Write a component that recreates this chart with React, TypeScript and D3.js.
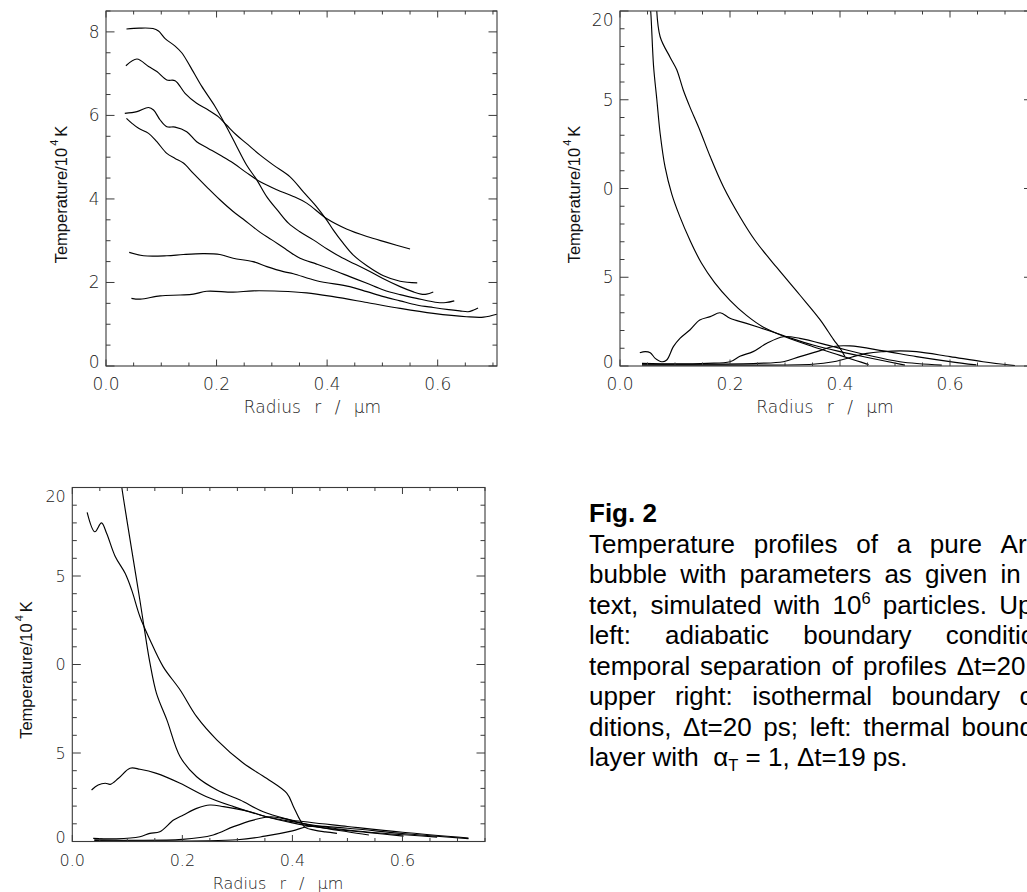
import React from "react";
import * as d3 from "d3";

type Pt = [number, number];

// ---------- Panel 1 (adiabatic) : [radius µm, T / 1e4 K]
const adiabaticA: Pt[] = [[0.037,8.07],[0.06,8.09],[0.085,8.08],[0.095,8.02],[0.107,7.84],[0.125,7.66],[0.137,7.5],[0.152,7.18],[0.173,6.7],[0.197,6.22],[0.215,5.8],[0.236,5.27],[0.254,4.82],[0.273,4.45],[0.291,4.05],[0.312,3.7],[0.33,3.42],[0.35,3.22],[0.375,3.02],[0.4,2.8],[0.423,2.62],[0.45,2.44],[0.472,2.3],[0.5,2.1],[0.532,1.9],[0.555,1.78],[0.57,1.72],[0.58,1.72],[0.592,1.77]];
const adiabaticB: Pt[] = [[0.036,7.19],[0.056,7.35],[0.077,7.17],[0.092,7.05],[0.11,6.85],[0.125,6.83],[0.143,6.53],[0.164,6.29],[0.185,6.13],[0.203,5.97],[0.218,5.77],[0.236,5.53],[0.254,5.33],[0.279,5.05],[0.303,4.81],[0.333,4.53],[0.357,4.17],[0.38,3.83],[0.399,3.5],[0.411,3.26],[0.429,2.94],[0.447,2.66],[0.472,2.4],[0.502,2.16],[0.532,2.03],[0.563,1.99]];
const adiabaticC: Pt[] = [[0.034,6.05],[0.056,6.09],[0.077,6.19],[0.086,6.13],[0.098,5.89],[0.11,5.73],[0.125,5.72],[0.146,5.61],[0.164,5.37],[0.185,5.21],[0.206,5.05],[0.23,4.86],[0.254,4.63],[0.279,4.41],[0.309,4.22],[0.339,4.06],[0.363,3.9],[0.399,3.53],[0.435,3.28],[0.472,3.1],[0.508,2.96],[0.55,2.8]];
const adiabaticD: Pt[] = [[0.037,5.93],[0.047,5.81],[0.059,5.69],[0.077,5.57],[0.092,5.37],[0.11,5.09],[0.125,4.97],[0.14,4.86],[0.158,4.61],[0.182,4.29],[0.206,3.98],[0.23,3.7],[0.248,3.52],[0.279,3.2],[0.3,3.02],[0.327,2.78],[0.351,2.58],[0.381,2.44],[0.41,2.3],[0.441,2.14],[0.472,1.98],[0.502,1.82],[0.532,1.71],[0.562,1.62],[0.6,1.52],[0.615,1.52],[0.63,1.56]];
const adiabaticE: Pt[] = [[0.042,2.72],[0.068,2.64],[0.11,2.64],[0.14,2.67],[0.176,2.69],[0.206,2.67],[0.23,2.58],[0.266,2.5],[0.291,2.38],[0.321,2.26],[0.339,2.21],[0.381,2.04],[0.441,1.9],[0.472,1.78],[0.502,1.66],[0.532,1.56],[0.562,1.46],[0.592,1.4],[0.62,1.35],[0.64,1.32],[0.655,1.3],[0.665,1.34],[0.673,1.39]];
const adiabaticF: Pt[] = [[0.046,1.62],[0.062,1.6],[0.098,1.68],[0.134,1.7],[0.158,1.72],[0.182,1.79],[0.23,1.77],[0.266,1.8],[0.315,1.79],[0.363,1.75],[0.411,1.66],[0.472,1.52],[0.532,1.38],[0.592,1.26],[0.652,1.18],[0.683,1.17],[0.707,1.24]];

// ---------- Panel 2 (isothermal)
const isoG: Pt[] = [[0.054,20.5],[0.056,19.9],[0.061,16.9],[0.067,15.0],[0.073,13.1],[0.082,11.2],[0.094,9.7],[0.109,8.4],[0.127,7.1],[0.148,5.8],[0.172,4.7],[0.2,3.7],[0.23,2.85],[0.26,2.2],[0.3,1.65],[0.35,1.1],[0.4,0.6],[0.43,0.3],[0.452,0.08]];
const isoH: Pt[] = [[0.066,20.5],[0.073,18.55],[0.091,17.4],[0.103,16.7],[0.115,15.55],[0.127,14.6],[0.145,13.3],[0.164,11.8],[0.188,10.1],[0.218,8.41],[0.245,7.1],[0.285,5.55],[0.327,4.0],[0.364,2.6],[0.388,1.5],[0.4,1.0],[0.409,0.53]];
const isoI: Pt[] = [[0.036,0.75],[0.046,0.81],[0.055,0.75],[0.064,0.43],[0.076,0.24],[0.085,0.34],[0.097,1.09],[0.109,1.56],[0.127,2.03],[0.145,2.59],[0.164,2.78],[0.182,3.0],[0.2,2.69],[0.23,2.4],[0.267,2.03],[0.303,1.65],[0.351,1.18],[0.4,0.81],[0.45,0.48],[0.518,0.05]];
const isoJ: Pt[] = [[0.04,0.15],[0.1,0.12],[0.158,0.15],[0.2,0.24],[0.218,0.55],[0.242,0.81],[0.267,1.28],[0.297,1.65],[0.327,1.56],[0.388,1.09],[0.449,0.62],[0.509,0.24],[0.585,0.05]];
const isoK: Pt[] = [[0.04,0.1],[0.15,0.1],[0.25,0.15],[0.297,0.24],[0.327,0.53],[0.358,0.81],[0.388,1.1],[0.418,1.13],[0.479,0.85],[0.539,0.53],[0.6,0.25],[0.648,0.06]];
const isoL: Pt[] = [[0.04,0.05],[0.2,0.05],[0.35,0.1],[0.388,0.24],[0.449,0.71],[0.479,0.81],[0.509,0.85],[0.539,0.81],[0.6,0.53],[0.66,0.24],[0.718,0.02]];

// ---------- Panel 3 (thermal boundary layer)
const layerP: Pt[] = [[0.088,20.5],[0.09,20],[0.099,18.2],[0.111,15.9],[0.123,13.6],[0.132,11.8],[0.141,10.1],[0.153,8.37],[0.172,6.86],[0.196,4.79],[0.226,3.66],[0.263,2.91],[0.305,2.34],[0.347,1.68],[0.396,1.21],[0.444,0.84],[0.5,0.55],[0.539,0.37]];
const layerQ: Pt[] = [[0.027,18.6],[0.041,17.5],[0.053,18.0],[0.0625,17.4],[0.078,16.1],[0.096,15.15],[0.108,14.2],[0.123,12.7],[0.141,11.4],[0.165,9.88],[0.196,8.56],[0.226,7.05],[0.263,5.73],[0.311,4.42],[0.353,3.57],[0.39,2.72],[0.402,1.97],[0.414,1.21],[0.423,0.8],[0.44,0.64],[0.46,0.54],[0.481,0.46]];
const layerR: Pt[] = [[0.035,2.91],[0.047,3.19],[0.06,3.29],[0.069,3.23],[0.084,3.57],[0.105,4.14],[0.123,4.08],[0.153,3.85],[0.196,3.29],[0.244,2.53],[0.293,1.97],[0.341,1.5],[0.4,1.05],[0.46,0.75],[0.54,0.5],[0.602,0.3]];
const layerS: Pt[] = [[0.038,0.18],[0.08,0.15],[0.123,0.27],[0.141,0.46],[0.159,0.55],[0.184,1.21],[0.202,1.5],[0.226,1.87],[0.25,2.06],[0.275,1.97],[0.323,1.68],[0.353,1.4],[0.4,1.12],[0.5,0.65],[0.663,0.25]];
const layerU: Pt[] = [[0.04,0.1],[0.2,0.12],[0.256,0.37],[0.293,0.84],[0.329,1.21],[0.36,1.4],[0.4,1.2],[0.5,0.85],[0.6,0.52],[0.72,0.2]];
const layerV: Pt[] = [[0.04,0.05],[0.3,0.1],[0.35,0.3],[0.4,0.6],[0.43,0.85],[0.5,0.75],[0.6,0.45],[0.72,0.16]];

// ---------- tick labels
const xTickValues = [0, 0.2, 0.4, 0.6];
const xTickLabels = ["0.0", "0.2", "0.4", "0.6"];
const y1TickValues = [0, 2, 4, 6, 8];
const y1TickLabels = ["0", "2", "4", "6", "8"];
const y2TickValues = [0, 5, 10, 15, 20];
const y2TickLabels = ["0", "5", "0", "5", "20"];

const xTitle = "Radius r / μm";
const captionTitle = "Fig. 2";
const captionLines = [
  "Temperature profiles of a pure Argon",
  "bubble with parameters as given in the",
  "text, simulated with 10^6 particles. Upper",
  "left: adiabatic boundary conditions,",
  "temporal separation of profiles Δt=20 ps;",
  "upper right: isothermal boundary con-",
  "ditions, Δt=20 ps; left: thermal boundary",
  "layer with  α_T = 1, Δt=19 ps.",
];

type PanelCfg = {
  id: string;
  left: number; right: number; top: number; bottom: number;
  xMax: number; yMax: number;
  yMinorStep: number; yMajorStep: number;
  yVals: number[]; yLabels: string[];
  curves: Pt[][];
  tickFont: number;
  xLabelY: number; titleX: number; titleY: number;
  yTitleX: number; yTitleY: number;
};

const TICK_FONT = "'DejaVu Sans', sans-serif";
const SANS = "'Liberation Sans', Arial, sans-serif";

function Panel({ c }: { c: PanelCfg }) {
  const x = d3.scaleLinear().domain([0, c.xMax]).range([c.left, c.right]);
  const y = d3.scaleLinear().domain([0, c.yMax]).range([c.bottom, c.top]);
  const line = d3.line<Pt>().x(d => x(d[0])).y(d => y(d[1])).curve(d3.curveCatmullRom.alpha(0.5));
  const xMinor = d3.range(0, c.xMax + 1e-9, 0.05);
  const yMinor = d3.range(0, c.yMax + 1e-9, c.yMinorStep);
  const isMajorX = (v: number) => Math.abs(v / 0.2 - Math.round(v / 0.2)) < 1e-6;
  const isMajorY = (v: number) => Math.abs(v / c.yMajorStep - Math.round(v / c.yMajorStep)) < 1e-6;
  const axisColor = "#3a3a3a";
  return (
    <g>
      <defs>
        <clipPath id={"clip" + c.id}>
          <rect x={c.left} y={c.top} width={c.right - c.left} height={c.bottom - c.top} />
        </clipPath>
      </defs>
      <g clipPath={`url(#clip${c.id})`}>
        {c.curves.map((d, i) => (
          <path key={i} d={line(d) || ""} fill="none" stroke="#000" strokeWidth={1.15} />
        ))}
      </g>
      <rect x={c.left} y={c.top} width={c.right - c.left} height={c.bottom - c.top} fill="none" stroke={axisColor} strokeWidth={1.1} />
      {xMinor.map((v, i) => {
        const len = isMajorX(v) ? 6.5 : 3.5;
        const px = x(v);
        return (
          <g key={"xt" + i}>
            <line x1={px} x2={px} y1={c.bottom} y2={c.bottom - len} stroke={axisColor} strokeWidth={1} />
            <line x1={px} x2={px} y1={c.top} y2={c.top + len} stroke={axisColor} strokeWidth={1} />
          </g>
        );
      })}
      {yMinor.map((v, i) => {
        const len = isMajorY(v) ? 8.5 : 4.5;
        const py = y(v);
        return (
          <g key={"yt" + i}>
            <line x1={c.left} x2={c.left + len} y1={py} y2={py} stroke={axisColor} strokeWidth={1} />
            <line x1={c.right} x2={c.right - len} y1={py} y2={py} stroke={axisColor} strokeWidth={1} />
          </g>
        );
      })}
      {xTickValues.map((v, i) => (
        <text key={"xl" + i} x={x(v)} y={c.xLabelY} textAnchor="middle" dominantBaseline="central"
          fontFamily={TICK_FONT} fontSize={c.tickFont} fontWeight={200} fill="#222">{xTickLabels[i]}</text>
      ))}
      {c.yVals.map((v, i) => {
        const py = Math.max(c.top + 9, Math.min(c.bottom - 4.5, y(v)));
        return (
          <text key={"yl" + i} x={c.left - 6.5} y={py} textAnchor="end" dominantBaseline="central"
            fontFamily={TICK_FONT} fontSize={c.tickFont} fontWeight={200} fill="#222">{c.yLabels[i]}</text>
        );
      })}
      <text x={c.titleX} y={c.titleY} textAnchor="middle" dominantBaseline="central"
        fontFamily={TICK_FONT} fontSize={c.tickFont} fontWeight={200} wordSpacing={8} fill="#222">{xTitle}</text>
      <text transform={`translate(${c.yTitleX},${c.yTitleY}) rotate(-90)`} textAnchor="middle"
        fontFamily={SANS} fontSize={16.5} fill="#111">
        Temperature/10<tspan dx={2} dy={-9} fontSize={11}>4</tspan><tspan dx={3} dy={9}>K</tspan>
      </text>
    </g>
  );
}

// caption helpers
let ctx: CanvasRenderingContext2D | null = null;
function measure(t: string, size: number, bold = false) {
  if (!ctx) ctx = document.createElement("canvas").getContext("2d");
  if (!ctx) return t.length * size * 0.5;
  ctx.font = `${bold ? "bold " : ""}${size}px 'Liberation Sans'`;
  return ctx.measureText(t).width;
}
type Seg = { t: string; kind: "n" | "sup" | "sub" };
function parseWord(w: string): Seg[] {
  const out: Seg[] = [];
  const parts = w.split(/(\^.|_.)/).filter(p => p.length);
  for (const p of parts) {
    if (p[0] === "^" && p.length === 2) out.push({ t: p[1], kind: "sup" });
    else if (p[0] === "_" && p.length === 2) out.push({ t: p[1], kind: "sub" });
    else out.push({ t: p, kind: "n" });
  }
  return out;
}

function Caption() {
  const fs = 26, small = 16.5;
  const x0 = 589, x1 = 1070, base0 = 552.6, lh = 30.55;
  const els: React.ReactNode[] = [];
  captionLines.forEach((ln, li) => {
    const words = ln.split(" ").map(parseWord);
    const widths = words.map(ws => ws.reduce((s, g) => s + measure(g.t, g.kind === "n" ? fs : small), 0));
    const total = widths.reduce((a, b) => a + b, 0);
    const justify = li < captionLines.length - 1;
    const gap = justify && words.length > 1 ? (x1 - x0 - total) / (words.length - 1) : measure(" ", fs);
    let cx = x0;
    const by = base0 + li * lh;
    words.forEach((ws, wi) => {
      let sx = cx;
      ws.forEach((g, gi) => {
        const sz = g.kind === "n" ? fs : small;
        const dy = g.kind === "sup" ? -10 : g.kind === "sub" ? 5 : 0;
        els.push(
          <text key={`c${li}_${wi}_${gi}`} x={sx} y={by + dy} fontFamily={SANS} fontSize={sz} fill="#000">{g.t}</text>
        );
        sx += measure(g.t, sz);
      });
      cx += widths[wi] + gap;
    });
  });
  return (
    <g>
      <text x={x0} y={522} fontFamily={SANS} fontSize={26} fontWeight="bold" fill="#000">{captionTitle}</text>
      {els}
    </g>
  );
}

export default function App() {
  const panels: PanelCfg[] = [
    {
      id: "a", left: 106, right: 497, top: 11, bottom: 366, xMax: 0.7073, yMax: 8.5,
      yMinorStep: 0.5, yMajorStep: 2, yVals: y1TickValues, yLabels: y1TickLabels,
      curves: [adiabaticA, adiabaticB, adiabaticC, adiabaticD, adiabaticE, adiabaticF],
      tickFont: 17, xLabelY: 384, titleX: 312.5, titleY: 406.7, yTitleX: 67, yTitleY: 194.5,
    },
    {
      id: "b", left: 620, right: 1032.5, top: 11, bottom: 366, xMax: 0.75, yMax: 20,
      yMinorStep: 1, yMajorStep: 5, yVals: y2TickValues, yLabels: y2TickLabels,
      curves: [isoG, isoH, isoI, isoJ, isoK, isoL],
      tickFont: 17, xLabelY: 384, titleX: 825, titleY: 407, yTitleX: 580, yTitleY: 194.5,
    },
    {
      id: "c", left: 72.3, right: 485, top: 487.5, bottom: 841.5, xMax: 0.75, yMax: 20,
      yMinorStep: 1, yMajorStep: 5, yVals: y2TickValues, yLabels: y2TickLabels,
      curves: [layerP, layerQ, layerR, layerS, layerU, layerV],
      tickFont: 16, xLabelY: 860.7, titleX: 278, titleY: 883, yTitleX: 31.5, yTitleY: 670,
    },
  ];
  return (
    <div style={{ position: "absolute", left: 0, top: 0, width: 1027, height: 892, overflow: "hidden", background: "#fff" }}>
      <svg width={1027} height={892} viewBox="0 0 1027 892" style={{ display: "block" }}>
        <rect width={1027} height={892} fill="#fff" />
        {panels.map(p => <Panel key={p.id} c={p} />)}
        <Caption />
      </svg>
    </div>
  );
}
